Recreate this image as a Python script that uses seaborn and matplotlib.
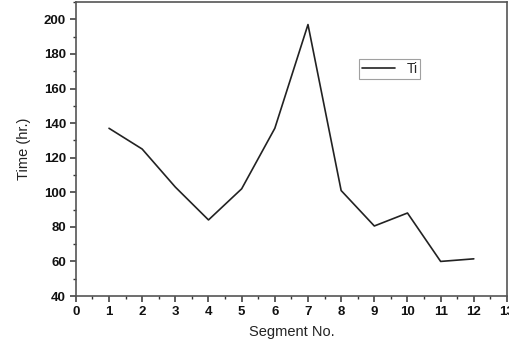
import matplotlib
matplotlib.use("Agg")
import matplotlib.pyplot as plt
from matplotlib.ticker import MultipleLocator
import seaborn as sns
import pandas as pd

segments = [1, 2, 3, 4, 5, 6, 7, 8, 9, 10, 11, 12]
time_hr = [137, 125, 103, 84, 102, 137, 197, 101, 80.5, 88, 60, 61.5]

df = pd.DataFrame({"Segment No.": segments, "Time (hr.)": time_hr})

sns.set_style("ticks")
plt.rcParams["font.family"] = ["Liberation Sans", "DejaVu Sans"]

fig = plt.figure(figsize=(5.09, 3.45), dpi=100)
ax = fig.add_axes([0.149, 0.142, 0.847, 0.852])

sns.lineplot(data=df, x="Segment No.", y="Time (hr.)", color="#222222",
             linewidth=1.2, label="Ti", ax=ax)

ax.set_xlim(0, 13)
ax.set_ylim(40, 210)
ax.xaxis.set_major_locator(MultipleLocator(1))
ax.xaxis.set_minor_locator(MultipleLocator(0.5))
ax.yaxis.set_major_locator(MultipleLocator(20))
ax.yaxis.set_minor_locator(MultipleLocator(10))
ax.set_yticks(range(40, 201, 20))
ax.tick_params(which="major", direction="out", length=4.5, width=1.1, labelsize=9.5,
               colors="#333333", labelcolor="#111111", pad=2.5)
ax.tick_params(which="minor", direction="out", length=2.5, width=1, colors="#333333")
for lbl in ax.get_xticklabels() + ax.get_yticklabels():
    lbl.set_fontweight("bold")

for s in ax.spines.values():
    s.set_color("#555555")
    s.set_linewidth(1.2)

ax.set_xlabel("Segment No.", fontsize=10.5, color="#222222", labelpad=5)
ax.set_ylabel("Time (hr.)", fontsize=10.5, color="#222222", labelpad=9)

leg = ax.legend(loc="upper left", bbox_to_anchor=(0.657, 0.806), borderaxespad=0,
                fontsize=10, frameon=True, fancybox=False, handlelength=2.4,
                borderpad=0.2, handletextpad=0.8)
leg.get_frame().set_edgecolor("#888888")
leg.get_frame().set_linewidth(0.8)

fig.savefig("out.png", dpi=100)
